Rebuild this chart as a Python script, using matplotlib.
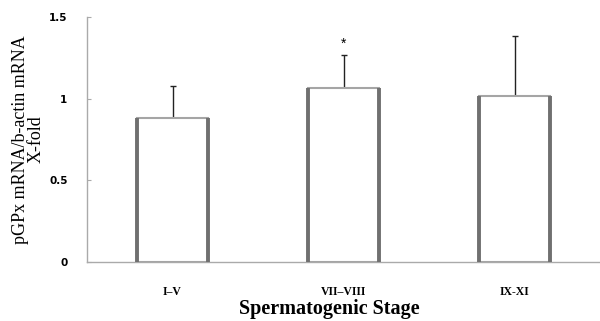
import numpy as np
import matplotlib.pyplot as plt

# values
stages = ["I\u2013V", "VII\u2013VIII", "IX-XI"]
means = [0.88, 1.065, 1.017]
errs = [0.198, 0.203, 0.367]
yticks = [0, 0.5, 1, 1.5]
ytick_labels = ["0", "0.5", "1", "1.5"]

fig = plt.figure(figsize=(6.0, 3.21), dpi=100)
ax = fig.add_axes([0.145, 0.184, 0.855, 0.763])

x = np.arange(len(stages))
w = 0.42

# error bars first so the bar outline covers their base
ax.errorbar(x, means, yerr=[np.zeros(3), errs], fmt='none', ecolor='#222222',
            elinewidth=1.0, capsize=2.5, capthick=1.0, zorder=1)
ax.bar(x, means, width=w, color='white', edgecolor='#a5a5a5', linewidth=1.5, zorder=2)
# darker, thicker side walls like the original 3d-ish bars
for xi, m in zip(x, means):
    ax.plot([xi - w / 2, xi - w / 2], [0, m], color='#707070', lw=2.8, zorder=3,
            solid_capstyle='butt')
    ax.plot([xi + w / 2, xi + w / 2], [0, m], color='#707070', lw=2.8, zorder=3,
            solid_capstyle='butt')

# significance marker
ax.text(x[1], means[1] + errs[1] + 0.025, "*", ha='center', va='bottom',
        fontsize=10, family='Liberation Sans')

ax.set_xlim(-0.5, 2.5)
ax.set_ylim(0, 1.5)
ax.set_yticks(yticks)
ax.set_yticklabels(ytick_labels, fontsize=7.5, fontweight='bold', family='DejaVu Sans')
ax.set_xticks(x)
ax.set_xticklabels(stages, fontsize=8.5, fontweight='bold', family='Liberation Serif')
ax.tick_params(axis='x', length=0, pad=17)
ax.tick_params(axis='y', direction='in', length=3, color='#aaaaaa', pad=14)

for s in ['top', 'right']:
    ax.spines[s].set_visible(False)
ax.spines['left'].set_color('#aaaaaa')
ax.spines['bottom'].set_color('#aaaaaa')
ax.spines['left'].set_linewidth(1.0)
ax.spines['bottom'].set_linewidth(1.0)

ax.set_ylabel("pGPx mRNA/b-actin mRNA\nX-fold", fontsize=13, family='Liberation Serif',
              linespacing=0.95)
ax.yaxis.set_label_coords(-0.082, 0.5)
ax.set_xlabel("Spermatogenic Stage", fontsize=14.5, fontweight='bold',
              family='Liberation Serif')
ax.xaxis.set_label_coords(0.472, -0.152)

fig.savefig("out.png", dpi=100)
